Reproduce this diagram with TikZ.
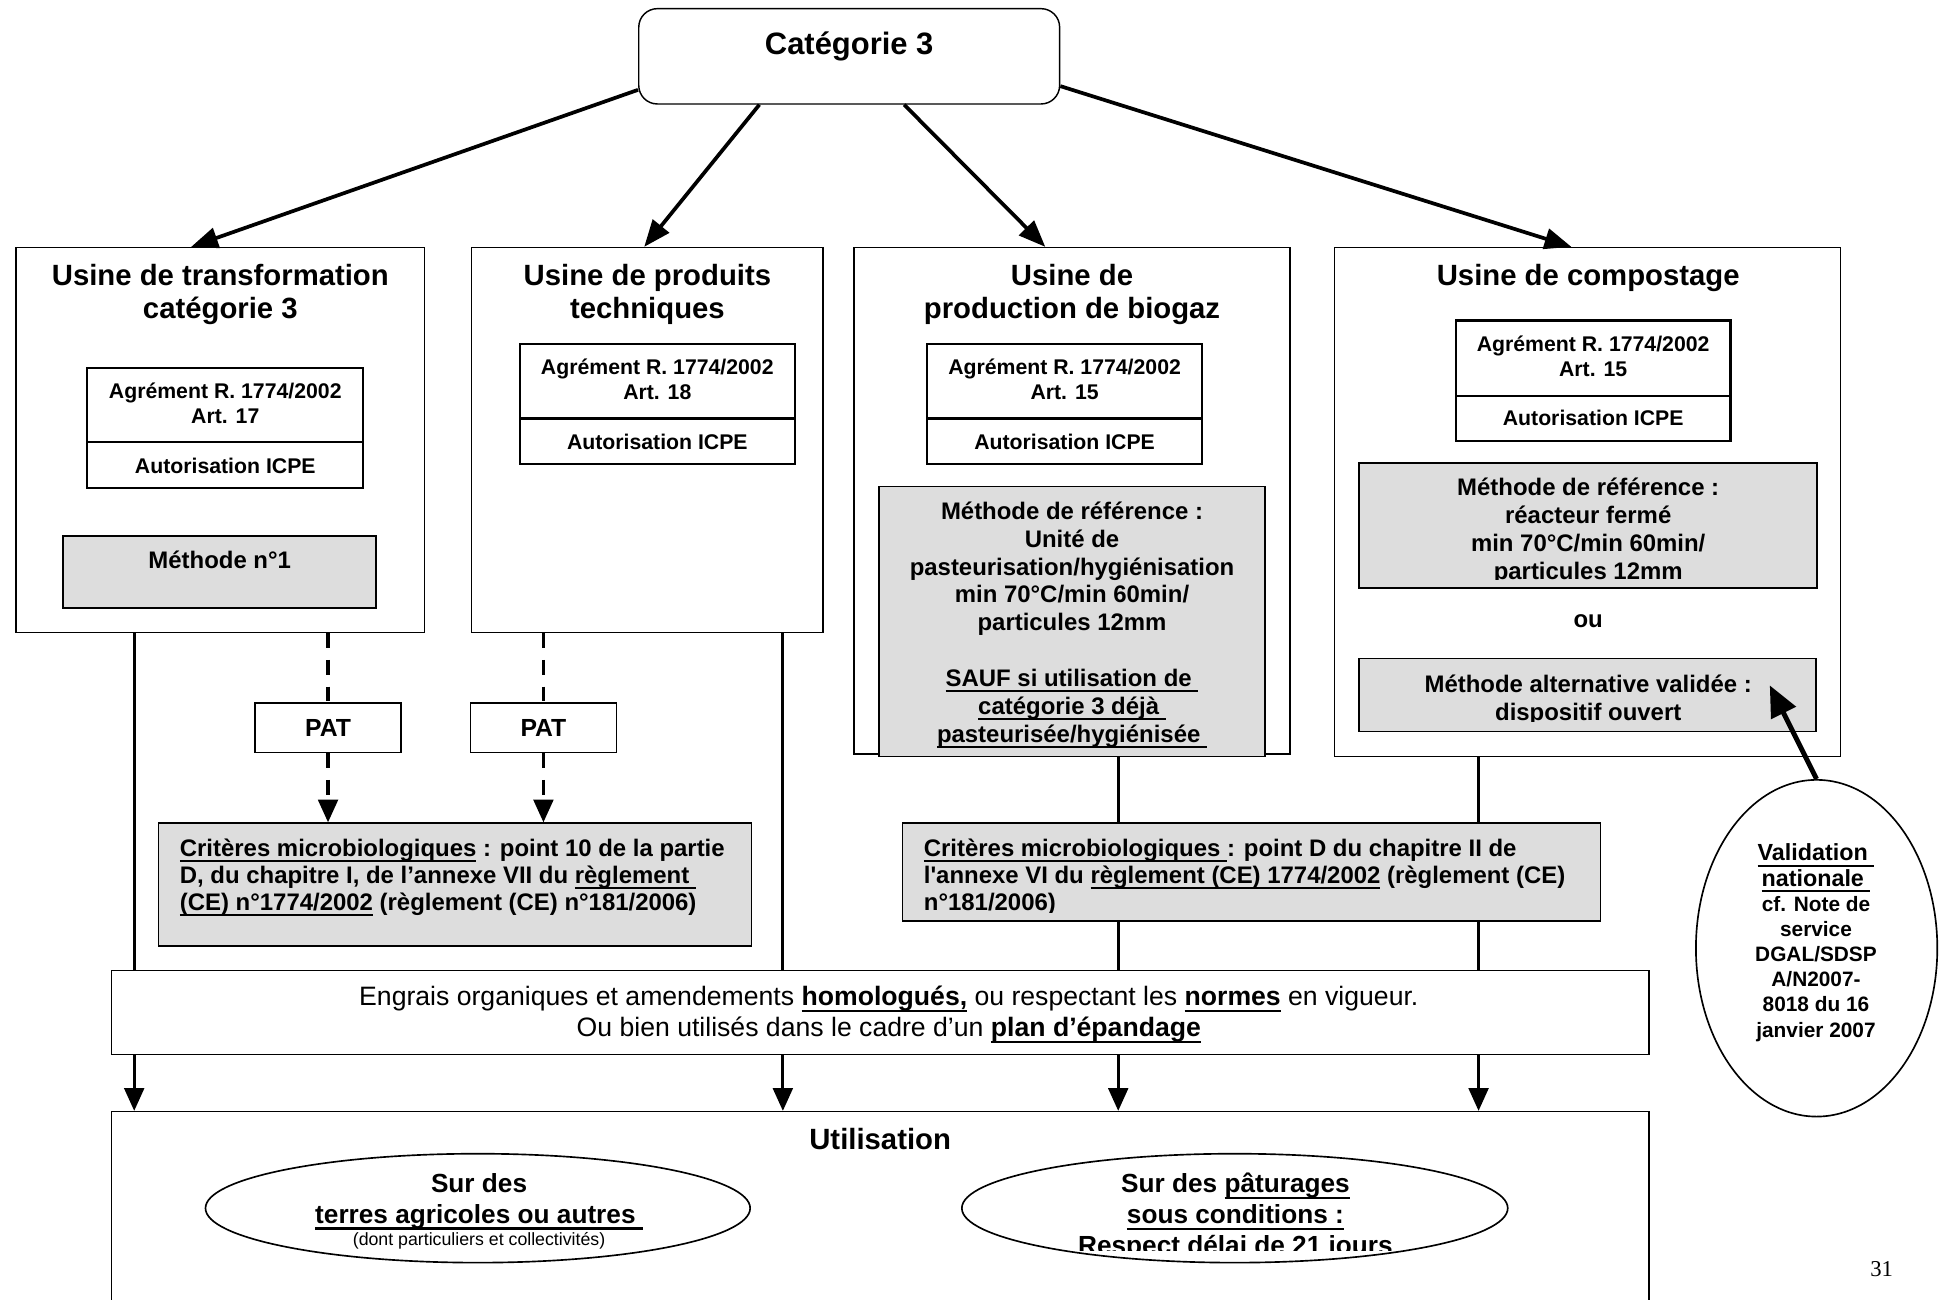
\documentclass[tikz,border=0pt]{standalone}
\usepackage{fontspec}
\setmainfont{Liberation Sans}
\newfontfamily\pgnumfont{Liberation Serif}
\usetikzlibrary{arrows.meta,fit,shapes.geometric,backgrounds}
\definecolor{boxgray}{RGB}{221,221,221}
\newcommand\myul[1]{\leavevmode\setbox0=\hbox{#1}\rlap{\rule[-0.24em]{\wd0}{0.085em}}\box0\relax}
\newcommand\straightap{\XeTeXglyph\XeTeXcharglyph"27 }
\begin{document}
\begin{tikzpicture}[x=0.6pt,y=-0.6pt,
  frame/.style={draw,fill=white,line width=0.7pt,inner sep=0pt},
  agrbox/.style={draw,fill=white,line width=1.1pt,inner sep=0pt},
  graybox/.style={draw,fill=boxgray,line width=0.8pt,inner sep=0pt},
  txt/.style={inner sep=0pt,anchor=north,align=center},
  ftitle/.style={font={\bfseries\fontsize{14.2pt}{16.2pt}\selectfont}},
  fagr/.style={font={\bfseries\fontsize{10.3pt}{12pt}\selectfont}},
  fmeth/.style={font={\bfseries\fontsize{11.6pt}{13.5pt}\selectfont}},
  fcrit/.style={font={\bfseries\fontsize{11.6pt}{13.2pt}\selectfont}},
  fengr/.style={font={\fontsize{12.9pt}{15pt}\selectfont}},
  fell/.style={font={\bfseries\fontsize{12.7pt}{15pt}\selectfont}},
  fval/.style={font={\bfseries\fontsize{10.1pt}{12.2pt}\selectfont}},
  toparrow/.style={line width=1.8pt,-{Triangle[length=13pt,width=10pt]}},
  vdown/.style={line width=1.5pt,-{Triangle[length=11pt,width=9.5pt]}},
  dline/.style={line width=1.6pt,dash pattern=on 7.2pt off 5.7pt},
  valarrow/.style={line width=2.4pt,-{Triangle[length=15pt,width=13pt]}},
  ellbox/.style={draw,ellipse,line width=0.8pt,inner sep=0pt}
]
\useasboundingbox (0,0) rectangle (1568,1050);

% Categorie 3
\node[frame,rounded corners=9pt,fit={(516,7) (856,84)}] (cat) {};
\node[txt,font={\bfseries\fontsize{15pt}{18pt}\selectfont}] (catt) at (686,25) {Catégorie 3};

% Box 1
\node[frame,fit={(13,200) (343,511)}] (box1) {};
\node[txt,ftitle] (box1t) at (178,213) {Usine de transformation\\catégorie 3};
\node[agrbox,fit={(70,297) (293,357)}] (agr1) {};
\node[agrbox,fit={(70,357) (293,394)}] (icpe1) {};
\node[txt,fagr] (agr1t) at (182,309) {Agrément R. 1774/2002\\Art. 17};
\node[txt,fagr] (icpe1t) at (182,370) {Autorisation ICPE};
\node[graybox,fit={(51,433) (304,491)}] (m1) {};
\node[txt,fmeth] (m1t) at (177.5,445) {Méthode n°1};

% Box 2
\node[frame,fit={(381,200) (665,511)}] (box2) {};
\node[txt,ftitle] (box2t) at (523,213) {Usine de produits\\techniques};
\node[agrbox,fit={(420,278) (642,338)}] (agr2) {};
\node[agrbox,fit={(420,338) (642,375)}] (icpe2) {};
\node[txt,fagr] (agr2t) at (531,290) {Agrément R. 1774/2002\\Art. 18};
\node[txt,fagr] (icpe2t) at (531,350) {Autorisation ICPE};

% Box 3
\node[frame,fit={(690,200) (1042,609)}] (box3) {};
\node[txt,ftitle] (box3t) at (866,213) {Usine de\\production de biogaz};
\node[agrbox,fit={(749,278) (971,338)}] (agr3) {};
\node[agrbox,fit={(749,338) (971,375)}] (icpe3) {};
\node[txt,fagr] (agr3t) at (860,290) {Agrément R. 1774/2002\\Art. 15};
\node[txt,fagr] (icpe3t) at (860,350) {Autorisation ICPE};
\node[graybox,fit={(710,393) (1022,611)}] (mref3) {};
\node[txt,fmeth] (mref3t) at (866,405) {Méthode de référence :\\Unité de\\pasteurisation/hygiénisation\\min 70°C/min 60min/\\particules 12mm\\[13.5pt]\myul{SAUF si utilisation de }\\\myul{catégorie 3 déjà }\\\myul{pasteurisée/hygiénisée }};

% Box 4
\node[frame,fit={(1078,200) (1487,611)}] (box4) {};
\node[txt,ftitle] (box4t) at (1283,213) {Usine de compostage};
\node[agrbox,fit={(1176,259) (1398,320)}] (agr4) {};
\node[agrbox,fit={(1176,320) (1398,356)}] (icpe4) {};
\node[txt,fagr] (agr4t) at (1287,271) {Agrément R. 1774/2002\\Art. 15};
\node[txt,fagr] (icpe4t) at (1287,331) {Autorisation ICPE};
\node[graybox,fit={(1098,374) (1468,475)}] (mref4) {};
\begin{scope}
\clip (1098,374) rectangle (1468,468);
\node[txt,fmeth] (mref4t) at (1283,386) {Méthode de référence :\\réacteur fermé\\min 70°C/min 60min/\\particules 12mm};
\end{scope}
\node[fmeth,inner sep=0pt,anchor=base] (ou) at (1283,507) {ou};
\node[graybox,fit={(1098,532) (1467,591)}] (malt) {};
\begin{scope}
\clip (1098,532) rectangle (1467,583);
\node[txt,fmeth] (maltt) at (1283,545) {Méthode alternative validée :\\dispositif ouvert};
\end{scope}

% PAT
\node[frame,minimum width=70.8pt,minimum height=24pt,font={\bfseries\fontsize{12pt}{14pt}\selectfont}] (pat1) at (265,588) {PAT};
\node[frame,minimum width=70.8pt,minimum height=24pt,font={\bfseries\fontsize{12pt}{14pt}\selectfont}] (pat2) at (439,588) {PAT};

% Criteres
\node[graybox,fit={(128,665) (607,764)}] (crit1) {};
\node[txt,fcrit,anchor=north west,align=left] (crit1t) at (145,677) {\myul{Critères microbiologiques} : point 10 de la partie\\D, du chapitre I, de l’annexe VII du \myul{règlement }\\\myul{(CE) n°1774/2002} (règlement (CE) n°181/2006)};
\node[graybox,fit={(729,665) (1293,744)}] (crit2) {};
\begin{scope}
\clip (729,665) rectangle (1293,737);
\node[txt,fcrit,anchor=north west,align=left] (crit2t) at (746,677) {\myul{Critères microbiologiques }: point D du chapitre II de\\l\straightap annexe VI du \myul{règlement (CE) 1774/2002} (règlement (CE)\\n°181/2006)};
\end{scope}

% Engrais
\node[frame,fit={(90,784) (1332,852)}] (engr) {};
\node[txt,fengr] (engrt) at (718,796.5) {Engrais organiques et amendements \myul{\textbf{homologués,}} ou respectant les \myul{\textbf{normes}} en vigueur.\\Ou bien utilisés dans le cadre d’un \myul{\textbf{plan d’épandage}}};

% Utilisation
\node[frame,fit={(90,898) (1332,1062)}] (util) {};
\node[txt,ftitle] (utilt) at (711,911.5) {Utilisation};
\node[ellbox,minimum width=264pt,minimum height=52.8pt] (ell1) at (386,976) {};
\node[ellbox,minimum width=264.6pt,minimum height=52.8pt] (ell2) at (997.5,976) {};
\begin{scope}
\clip (150,930) rectangle (1250,1010);
\node[txt,fell] (ell1t) at (387,947.5) {Sur des\\\myul{terres agricoles ou autres }\\[-4pt]{\mdseries\fontsize{8.6pt}{10pt}\selectfont (dont particuliers et collectivités)}};
\node[txt,fell] (ell2t) at (998,947.5) {Sur des \myul{pâturages}\\\myul{sous conditions :}\\Respect délai de 21 jours};
\end{scope}

% Validation
\node[ellbox,minimum width=117pt,minimum height=163.2pt] (val) at (1467.5,766) {};
\node[txt,fval] (valt) at (1467,681.5) {{\fontsize{11.3pt}{12.2pt}\selectfont\myul{Validation }}\\{\fontsize{11.3pt}{12.2pt}\selectfont\myul{nationale }}\\cf. Note de\\service\\DGAL/SDSP\\A/N2007-\\8018 du 16\\janvier 2007};

% page number
\node[inner sep=0pt,anchor=base,font={\pgnumfont\fontsize{11pt}{13pt}\selectfont}] (pg) at (1520,1031) {31};

% top arrows
\draw[toparrow] ([yshift=7.2pt]cat.south west) -- ([xshift=85.2pt]box1.north west);
\draw[toparrow] ([xshift=58.8pt]cat.south west) -- ([xshift=84pt]box2.north west);
\draw[toparrow] ([xshift=129pt]cat.south west) -- ([xshift=93pt]box3.north west);
\draw[toparrow] ([yshift=9pt]cat.south east) -- ([xshift=115.2pt]box4.north west);

% dashed PAT connectors
\draw[dline] (pat1.north |- box1.south) -- (pat1.north);
\draw[dline,-{Triangle[length=11pt,width=9.5pt]}] (pat1.south) -- (pat1.south |- crit1.north);
\draw[dline] (pat2.north |- box2.south) -- (pat2.north);
\draw[dline,-{Triangle[length=11pt,width=9.5pt]}] (pat2.south) -- (pat2.south |- crit1.north);

% vertical flows
\begin{scope}[on background layer]
\draw[vdown] ([xshift=57.6pt]box1.south west) coordinate (v1) -- (v1 |- util.north);
\draw[vdown] ([xshift=151.2pt]box2.south west) coordinate (v2) -- (v2 |- util.north);
\draw[vdown] ([xshift=116.4pt]mref3.south west) coordinate (v3) -- (v3 |- util.north);
\draw[vdown] ([xshift=70.2pt]box4.south west) coordinate (v4) -- (v4 |- util.north);
\end{scope}

% validation arrow
\draw[valarrow] (val.north) -- ([xshift=-22.8pt,yshift=22.8pt]malt.south east);
\end{tikzpicture}
\end{document}
